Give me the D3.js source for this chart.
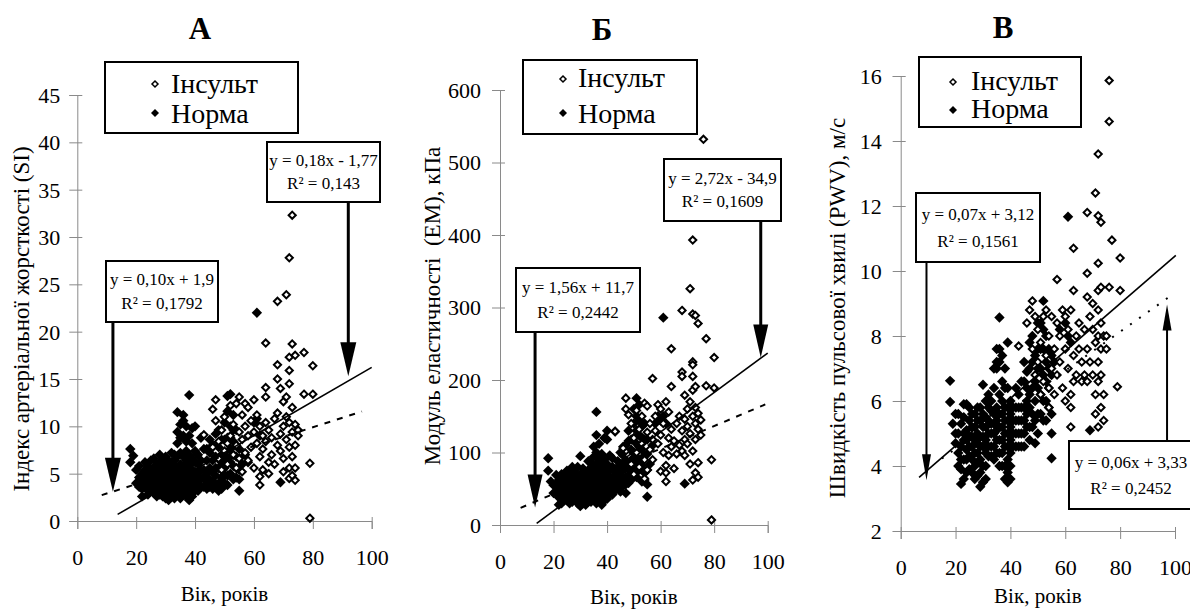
<!DOCTYPE html>
<html><head><meta charset="utf-8">
<script src="https://cdn.jsdelivr.net/npm/d3@7"></script>
<style>
body{margin:0;background:#fff}
svg{display:block}
text{font-family:"Liberation Serif","Times New Roman",serif;white-space:pre}
</style>
</head><body>
<svg id="c" width="1190" height="609"></svg>
<script>
// ---------- DATA ----------
const ageTicks=[0,20,40,60,80,100];
const siTicks=[0,5,10,15,20,25,30,35,40,45];
const emTicks=[0,100,200,300,400,500,600];
const pwvTicks=[2,4,6,8,10,12,14,16];
const seriesNames=["Інсульт","Норма"];
const panelTitles=["А","Б","В"];
const yTitles=["Індекс артеріальної жорсткості (SI)","Модуль еластичності  (ЕМ), кПа","Швидкість пульсової хвилі (PWV), м/с"];
const xTitle="Вік, років";

// Panel A: SI
const siNorm=[[18,7.6],[19,6.9],[18,6.2],[20,4.0],[21,3.6],[21,4.6],[22,2.6],[22,4.2],[22,5.0],[23,3.8],[23,4.4],[23,5.4],[24,3.2],[24,4.0],[24,4.8],[24,5.8],[25,3.6],[25,4.4],[25,5.2],[26,3.0],[26,4.0],[26,4.8],[26,5.6],[27,3.4],[27,4.2],[27,5.0],[27,6.0],[28,2.8],[28,3.8],[28,4.6],[28,5.4],[28,7.0],[29,3.2],[29,4.2],[29,5.0],[29,6.4],[30,2.4],[30,3.6],[30,4.4],[30,5.2],[30,6.0],[31,2.2],[31,3.0],[31,4.0],[31,4.8],[31,5.6],[32,3.4],[32,4.4],[32,5.2],[32,6.2],[33,3.0],[33,4.0],[33,4.8],[33,5.8],[33,7.0],[34,3.6],[34,4.6],[34,5.4],[34,9.4],[34,11.5],[35,3.2],[35,4.2],[35,5.0],[35,6.0],[35,7.2],[35,8.8],[36,2.8],[36,3.8],[36,4.8],[36,5.8],[36,11.2],[36,10.6],[37,3.4],[37,4.4],[37,5.4],[37,6.4],[37,7.4],[38,2.2],[38,3.0],[38,4.0],[38,5.0],[38,6.0],[38,13.3],[39,2.6],[39,3.6],[39,4.6],[39,6.6],[39,9.8],[40,3.2],[40,4.2],[40,5.2],[40,10.0],[41,3.8],[41,4.8],[41,6.0],[42,4.4],[42,5.4],[43,3.6],[43,4.6],[43,7.6],[44,4.0],[44,5.0],[44,6.4],[45,3.6],[45,4.4],[45,5.6],[45,7.2],[46,4.2],[46,5.2],[46,8.0],[47,3.6],[47,4.8],[47,6.8],[47,9.2],[48,4.0],[48,5.6],[48,7.8],[49,3.4],[49,4.6],[49,6.2],[49,8.6],[50,4.0],[50,5.6],[50,7.2],[50,10.4],[51,3.8],[51,6.6],[51,8.8],[51,13.2],[52,5.0],[52,7.6],[52,10.0],[52,13.4],[53,5.8],[53,8.4],[53,11.2],[54,4.6],[54,6.8],[54,9.6],[55,3.2],[55,5.4],[55,7.6],[56,6.0],[57,7.0],[58,6.2],[60,10.4],[61,22.0],[61,10.8],[62,9.0],[69,4.1],
[20,5.4],[21,5.8],[22,3.4],[23,6.2],[24,2.8],[25,6.4],[26,6.6],[27,2.6],[28,6.2],[29,2.6],[29,5.8],[30,6.8],[31,6.4],[32,2.8],[32,7.2],[33,2.4],[33,6.4],[34,2.8],[34,6.8],[34,8.2],[35,2.4],[35,10.2],[36,6.8],[36,9.0],[37,2.6],[37,8.4],[37,10.0],[38,7.0],[38,9.0],[39,5.4],[39,8.2],[40,6.2],[40,7.4],[41,3.2],[41,7.0],[42,3.6],[42,6.4],[42,8.8],[43,5.4],[44,3.4],[44,7.6],[45,8.6],[46,3.4],[46,6.4],[47,5.6],[48,3.2],[48,6.6],[48,9.6],[49,5.4],[49,7.0],[50,4.8],[50,6.4],[50,8.6],[51,4.8],[51,11.6],[52,6.2],[52,8.8],[53,4.4],[53,7.0],[53,9.6],[54,5.6],[54,8.0],[55,4.4],[55,6.6]];
const siStroke=[[43,9.1],[46,7.8],[46,11.8],[47,12.8],[47,10.6],[48,6.6],[48,8.4],[49,9.6],[49,5.4],[50,7.4],[50,11.0],[51,8.2],[51,6.0],[52,12.2],[52,9.0],[53,7.0],[53,10.2],[54,8.0],[54,12.4],[54,5.6],[55,13.1],[55,9.4],[55,6.6],[56,11.2],[56,8.6],[56,5.2],[57,12.4],[57,10.0],[57,7.2],[58,9.0],[58,6.4],[58,12.0],[59,10.6],[59,7.8],[60,12.8],[60,5.6],[60,9.4],[61,8.2],[61,11.2],[62,4.7],[62,3.8],[62,6.8],[62,10.0],[63,7.6],[63,5.4],[63,9.0],[64,13.1],[64,14.1],[64,18.8],[64,8.4],[64,10.4],[65,6.2],[65,9.6],[65,5.0],[66,7.0],[66,8.8],[67,10.8],[67,6.0],[68,16.5],[68,15.0],[68,23.2],[68,11.4],[68,8.0],[69,14.0],[69,9.2],[69,7.4],[70,12.6],[70,10.0],[70,6.6],[70,5.2],[71,13.1],[71,11.0],[71,8.6],[71,23.9],[72,4.5],[72,27.8],[72,15.9],[72,14.5],[72,17.3],[72,10.4],[72,7.8],[72,5.6],[73,18.7],[73,32.3],[73,12.0],[73,9.4],[73,6.8],[73,4.8],[74,17.5],[74,10.2],[74,8.0],[74,4.3],[74,5.6],[75,9.6],[75,9.0],[77,17.8],[77,13.4],[79,6.1],[79,0.3],[80,16.4],[80,13.4]];

// Panel B: EM
const emNorm=[[18,92],[18,75],[21,69],[20,55],[21,45],[22,38],[22,52],[22,62],[23,30],[23,46],[23,58],[24,40],[24,50],[24,66],[25,34],[25,44],[25,56],[25,75],[26,38],[26,48],[26,60],[27,32],[27,44],[27,54],[27,68],[28,36],[28,50],[28,62],[28,72],[29,40],[29,52],[29,58],[30,26],[30,34],[30,46],[30,60],[30,95],[31,30],[31,42],[31,54],[31,66],[32,36],[32,48],[32,58],[32,70],[33,32],[33,44],[33,56],[33,76],[34,38],[34,50],[34,62],[34,86],[35,42],[35,54],[35,66],[35,80],[35,108],[36,30],[36,46],[36,58],[36,72],[36,124],[36,156],[37,36],[37,50],[37,64],[37,90],[37,112],[38,28],[38,40],[38,56],[38,70],[38,84],[39,34],[39,48],[39,62],[39,78],[39,120],[40,44],[40,58],[40,72],[40,130],[41,50],[41,66],[41,96],[42,42],[42,56],[42,80],[43,48],[43,64],[43,129],[44,52],[44,70],[44,88],[45,46],[45,62],[45,84],[45,100],[46,54],[46,76],[46,96],[47,44],[47,66],[47,88],[47,110],[48,58],[48,80],[48,130],[49,62],[49,92],[49,118],[50,70],[50,100],[50,140],[50,160],[51,78],[51,112],[51,150],[51,175],[52,90],[52,124],[52,166],[53,60],[53,104],[53,136],[54,72],[54,118],[55,39],[55,56],[55,98],[56,84],[57,110],[58,140],[59,150],[60,144],[61,286],[61,150],[62,140],[69,57],
[19,60],[20,44],[21,56],[22,28],[23,70],[24,34],[24,58],[25,64],[26,30],[26,70],[27,40],[27,80],[28,44],[28,56],[29,30],[29,66],[29,80],[30,52],[30,70],[31,36],[31,48],[31,78],[32,28],[32,42],[32,64],[33,38],[33,50],[33,66],[33,88],[34,32],[34,44],[34,56],[34,74],[35,36],[35,48],[35,60],[35,94],[36,40],[36,52],[36,66],[36,84],[36,100],[37,44],[37,58],[37,76],[38,34],[38,48],[38,62],[38,98],[39,40],[39,56],[39,70],[39,90],[40,36],[40,50],[40,66],[40,84],[40,118],[41,44],[41,58],[41,76],[42,48],[42,66],[42,92],[43,56],[43,74],[44,60],[44,78],[45,54],[45,72],[46,64],[46,86],[46,108],[47,56],[47,78],[48,68],[48,94],[48,116],[49,74],[49,104],[50,84],[50,120],[51,66],[51,92],[51,130],[52,76],[52,108],[52,144],[53,82],[53,120],[54,62],[54,96],[54,140],[55,76],[55,118]];
const emStroke=[[43,129],[46,106],[47,175],[47,160],[48,152],[48,96],[49,140],[49,84],[50,120],[50,70],[51,158],[51,100],[52,132],[52,80],[53,150],[53,112],[54,168],[54,90],[54,64],[55,164],[55,128],[55,76],[56,140],[56,104],[57,202],[57,118],[57,90],[58,150],[58,130],[59,112],[59,166],[60,160],[60,124],[60,74],[61,140],[61,100],[62,72],[62,60],[62,82],[62,170],[63,156],[63,120],[63,96],[64,243],[64,191],[64,132],[64,108],[65,116],[65,78],[66,98],[66,140],[67,110],[67,150],[68,296],[68,211],[68,205],[68,130],[68,102],[69,179],[69,146],[69,118],[69,96],[70,160],[70,136],[70,112],[71,326],[71,170],[71,126],[71,84],[72,393],[72,291],[72,225],[72,221],[72,205],[72,186],[72,150],[72,102],[72,62],[73,289],[73,191],[73,162],[73,140],[73,118],[73,72],[74,278],[74,154],[74,132],[74,86],[74,66],[75,145],[75,124],[76,532],[77,257],[77,192],[80,231],[80,189],[79,90],[79,7]];

// Panel C: PWV
const pwvNorm=[[18,6.62],[18,5.97],[20,5.6],[20,4.7],[21,5.0],[21,4.4],[22,3.45],[22,3.9],[22,4.6],[22,5.3],[23,4.2],[23,4.8],[23,5.5],[24,3.8],[24,4.5],[24,5.1],[24,5.9],[25,4.3],[25,4.9],[25,5.4],[26,3.8],[26,4.6],[26,5.2],[27,4.0],[27,4.8],[27,5.6],[28,3.7],[28,4.4],[28,5.0],[28,5.8],[29,3.36],[29,4.2],[29,4.9],[29,5.4],[30,3.5],[30,4.6],[30,5.2],[30,6.5],[31,4.0],[31,4.8],[31,5.5],[32,4.3],[32,5.0],[32,5.8],[33,4.6],[33,5.3],[33,6.0],[34,4.2],[34,5.0],[34,5.6],[34,6.4],[35,4.8],[35,5.4],[35,7.0],[35,7.2],[36,4.4],[36,5.2],[36,6.2],[36,7.6],[36,8.57],[37,4.0],[37,4.8],[37,5.6],[37,6.6],[37,7.4],[38,3.6],[38,4.6],[38,5.4],[38,6.4],[39,3.8],[39,4.2],[39,5.0],[39,5.8],[39,7.8],[40,3.6],[40,4.4],[40,5.2],[40,6.0],[41,4.6],[41,5.4],[42,5.0],[42,5.8],[43,4.6],[43,5.4],[43,6.2],[44,5.0],[44,5.8],[45,4.6],[45,5.4],[45,6.6],[46,5.2],[46,6.0],[46,6.9],[47,4.8],[47,5.8],[47,7.8],[48,5.2],[48,6.4],[48,8.0],[49,4.7],[49,6.0],[49,7.4],[50,5.0],[50,6.4],[50,7.6],[51,5.6],[51,7.0],[51,8.4],[52,6.0],[52,7.6],[52,9.08],[53,5.4],[53,6.6],[53,8.0],[54,5.8],[54,7.0],[55,4.24],[55,5.0],[55,6.8],[56,7.2],[58,8.2],[60,8.4],[61,11.67],[61,8.0],[62,7.8],[69,5.1],
[19,5.3],[20,5.0],[21,4.0],[21,5.6],[22,4.2],[23,3.6],[23,5.0],[23,5.9],[24,4.2],[24,4.8],[25,3.9],[25,4.6],[25,5.8],[26,4.2],[26,4.9],[26,5.6],[27,3.6],[27,4.4],[27,5.2],[28,4.1],[28,4.7],[28,5.4],[29,3.8],[29,4.6],[29,5.8],[30,4.0],[30,4.9],[30,5.6],[31,3.6],[31,4.4],[31,5.2],[31,6.0],[32,4.6],[32,5.4],[32,6.2],[33,4.3],[33,5.0],[33,5.7],[34,4.6],[34,5.3],[34,7.0],[35,4.4],[35,5.1],[35,5.8],[35,7.6],[36,4.0],[36,4.8],[36,5.6],[36,7.2],[37,4.4],[37,5.2],[37,6.0],[38,4.0],[38,5.0],[38,5.8],[38,7.0],[39,3.5],[39,4.6],[39,5.4],[39,6.4],[40,4.0],[40,4.8],[40,5.6],[41,5.0],[41,5.8],[42,4.6],[42,5.4],[42,6.4],[43,5.0],[43,5.8],[44,4.6],[44,5.4],[44,6.6],[45,5.0],[45,5.8],[45,7.2],[46,5.6],[46,6.4],[47,5.2],[47,6.2],[47,7.0],[48,5.6],[48,7.2],[49,5.4],[49,6.6],[50,5.6],[50,7.0],[50,8.4],[51,6.2],[51,7.6],[52,5.4],[52,6.8],[52,8.2],[53,6.0],[53,7.2],[54,6.4],[54,7.6],[55,5.6],[55,7.4]];
const pwvStroke=[[43,7.69],[46,8.4],[47,8.8],[48,9.08],[48,7.6],[49,8.6],[49,6.8],[50,7.2],[50,8.2],[51,6.2],[51,7.8],[52,8.6],[52,6.6],[53,7.4],[53,8.8],[54,5.8],[54,6.4],[54,8.0],[55,7.0],[55,8.6],[56,6.2],[56,7.6],[57,9.74],[57,8.4],[57,6.8],[58,7.2],[58,8.0],[59,8.8],[59,6.4],[60,7.6],[60,8.6],[60,6.0],[61,8.2],[61,7.0],[62,5.2],[62,5.8],[62,6.2],[62,8.8],[63,9.4],[63,10.7],[63,7.4],[63,6.6],[64,8.0],[64,6.8],[65,7.6],[65,8.4],[66,6.6],[66,7.2],[67,8.2],[67,6.8],[68,9.93],[68,9.2],[68,11.8],[68,7.6],[68,6.6],[69,8.6],[69,7.2],[70,8.2],[70,6.8],[70,9.0],[71,12.4],[71,7.8],[71,6.2],[71,5.6],[72,13.6],[72,11.7],[72,10.24],[72,9.4],[72,8.8],[72,8.0],[72,7.2],[72,6.6],[72,5.2],[73,11.5],[73,9.5],[73,8.4],[73,7.6],[73,6.8],[73,5.8],[74,8.0],[74,6.2],[74,5.4],[75,8.0],[75,7.6],[76,15.86],[76,14.6],[77,10.95],[76,9.5],[79,6.44],[80,10.4],[80,9.4]];

// trend lines [slope, intercept]
const siTrendStroke=[0.18,-1.77], siTrendNorm=[0.10,1.9];
const emTrendStroke=[2.72,-34.9], emTrendNorm=[1.56,11.7];
const pwvTrendSolid=[0.073,3.16], pwvTrendDotted=[0.06,3.33];
// equation labels
const siEqNorm=["y = 0,10x + 1,9","R² = 0,1792"], siEqStroke=["y = 0,18x - 1,77","R² = 0,143"];
const emEqNorm=["y = 1,56x + 11,7","R² = 0,2442"], emEqStroke=["y = 2,72x - 34,9","R² = 0,1609"];
const pwvEqSolid=["y = 0,07x + 3,12","R² = 0,1561"], pwvEqDotted=["y = 0,06x + 3,33","R² = 0,2452"];

// ---------- LAYOUT ----------
const FONT='"Liberation Serif","Times New Roman",serif';
const panels=[
 {title:panelTitles[0],titleX:200,titleY:39,xr:[77.3,371.7],yr:[521,95],yd:[0,45],yTicks:siTicks,
  norm:siNorm,stroke:siStroke,yTitle:yTitles[0],yTitleX:21,yTitleY:319,yLab:-17,xTitleY:601,
  legend:{x:105,y:62,w:193,h:71,mx:155,tx:171,m1:84,t1:93,m2:113,t2:123},
  trends:[{c:siTrendNorm,from:8.3,to:96.7,dash:"6,7"},{c:siTrendStroke,from:13.7,to:100,dash:null}],
  boxes:[{x:106,y:261,w:112,h:61,lines:siEqNorm,ax:12.1,tip:3.1,dir:"down"},
         {x:267,y:142,w:113,h:60,lines:siEqStroke,ax:92.05,tip:15.3,dir:"down"}],
  arrow:{w:3,hw:8,hl:34}},
 {title:panelTitles[1],titleX:602,titleY:40,xr:[500,767.7],yr:[525,90],yd:[0,600],yTicks:emTicks,
  norm:emNorm,stroke:emStroke,yTitle:yTitles[1],yTitleX:432,yTitleY:306,yLab:-19,xTitleY:604,
  legend:{x:523,y:60,w:174,h:74,mx:563,tx:578,m1:79,t1:87,m2:113,t2:123},
  trends:[{c:emTrendNorm,from:7.7,to:99.1,dash:"6,7"},{c:emTrendStroke,from:13.7,to:100,dash:null}],
  boxes:[{x:516,y:268,w:124,h:64,lines:emEqNorm,ax:13.1,tip:24,dir:"down"},
         {x:664,y:159,w:117,h:62,lines:emEqStroke,ax:97.4,tip:231,dir:"down"}],
  arrow:{w:3,hw:7.5,hl:33}},
 {title:panelTitles[2],titleX:1003,titleY:38,xr:[900.7,1175],yr:[531,76],yd:[2,16],yTicks:pwvTicks,
  norm:pwvNorm,stroke:pwvStroke,yTitle:yTitles[2],yTitleX:837,yTitleY:308,yLab:-19,xTitleY:603,
  legend:{x:919,y:57,w:162,h:70,mx:953,tx:971,m1:82,t1:90,m2:110,t2:118},
  trends:[{c:pwvTrendDotted,from:15,to:98,dash:"2,9"},{c:pwvTrendSolid,from:6.7,to:100.3,dash:null}],
  boxes:[{x:916,y:193,w:124,h:69,lines:pwvEqSolid,ax:9.4,tip:3.56,dir:"down"},
         {x:1069,y:441,w:124,h:68,lines:pwvEqDotted,ax:97.1,tip:8.97,dir:"up"}],
  arrow:{w:2,hw:4.5,hl:26}}
];

const svg=d3.select("#c");
const diamond=r=>`M0,${-r}L${r},0L0,${r}L${-r},0Z`;
const axisColor="#8a8a8a";

panels.forEach(p=>{
  const g=svg.append("g");
  const x=d3.scaleLinear().domain([0,100]).range(p.xr);
  const y=d3.scaleLinear().domain(p.yd).range(p.yr);

  g.append("text").attr("x",p.titleX).attr("y",p.titleY).attr("text-anchor","middle")
    .attr("font-size",31).attr("font-weight","bold").text(p.title);

  const xa=g.append("g").attr("transform",`translate(0,${p.yr[0]})`)
    .call(d3.axisBottom(x).tickValues(ageTicks).tickSizeOuter(0).tickSize(8));
  xa.attr("font-family",FONT);
  xa.select(".domain").attr("stroke",axisColor);
  xa.selectAll(".tick line").attr("stroke",axisColor).attr("y1",-4).attr("y2",8);
  xa.selectAll(".tick text").attr("y",44).attr("dy",0).attr("font-size",22).attr("fill","#000");

  const ya=g.append("g").attr("transform",`translate(${p.xr[0]},0)`)
    .call(d3.axisLeft(y).tickValues(p.yTicks).tickSizeOuter(0).tickSize(8));
  ya.attr("font-family",FONT);
  ya.select(".domain").attr("stroke",axisColor);
  ya.selectAll(".tick line").attr("stroke",axisColor).attr("x1",5).attr("x2",-8);
  ya.selectAll(".tick text").attr("x",p.yLab).attr("dy","0.34em").attr("font-size",22).attr("fill","#000");

  g.append("text").attr("x",(p.xr[0]+p.xr[1])/2).attr("y",p.xTitleY).attr("text-anchor","middle")
    .attr("font-size",21).text(xTitle);
  g.append("text").attr("transform",`translate(${p.yTitleX},${p.yTitleY}) rotate(-90)`)
    .attr("text-anchor","middle").attr("dy","0.35em").attr("font-size",23).text(p.yTitle);

  g.append("g").selectAll("path").data(p.norm).join("path")
    .attr("transform",d=>`translate(${x(d[0])},${y(d[1])})`).attr("d",diamond(5.2)).attr("fill","#000");
  g.append("g").selectAll("path").data(p.stroke).join("path")
    .attr("transform",d=>`translate(${x(d[0])},${y(d[1])})`).attr("d",diamond(3.6))
    .attr("fill","#fff").attr("stroke","#000").attr("stroke-width",2);

  p.trends.forEach(t=>{
    const line=d3.line().x(d=>x(d)).y(d=>y(t.c[0]*d+t.c[1]));
    g.append("path").datum([t.from,t.to]).attr("d",line).attr("fill","none")
      .attr("stroke","#000").attr("stroke-width",t.dash?2:1.6)
      .attr("stroke-dasharray",t.dash);
  });

  const L=p.legend;
  g.append("rect").attr("x",L.x).attr("y",L.y).attr("width",L.w).attr("height",L.h)
    .attr("fill","#fff").attr("stroke","#000").attr("stroke-width",2);
  g.append("path").attr("transform",`translate(${L.mx},${L.m1})`).attr("d",diamond(3))
    .attr("fill","#fff").attr("stroke","#000").attr("stroke-width",1.5);
  g.append("text").attr("x",L.tx).attr("y",L.t1).attr("font-size",28).text(seriesNames[0]);
  g.append("path").attr("transform",`translate(${L.mx},${L.m2})`).attr("d",diamond(4)).attr("fill","#000");
  g.append("text").attr("x",L.tx).attr("y",L.t2).attr("font-size",28).text(seriesNames[1]);

  p.boxes.forEach(b=>{
    g.append("rect").attr("x",b.x).attr("y",b.y).attr("width",b.w).attr("height",b.h)
      .attr("fill","#fff").attr("stroke","#000").attr("stroke-width",2);
    const cx=b.x+b.w/2;
    g.append("text").attr("x",cx).attr("y",b.y+b.h*0.38+1).attr("text-anchor","middle").attr("font-size",17).text(b.lines[0]);
    g.append("text").attr("x",cx).attr("y",b.y+b.h*0.78).attr("text-anchor","middle").attr("font-size",17).text(b.lines[1]);
    const ax=x(b.ax), ty=y(b.tip), A=p.arrow;
    if(b.dir==="down"){
      g.append("line").attr("x1",ax).attr("x2",ax).attr("y1",b.y+b.h).attr("y2",ty-A.hl+2)
        .attr("stroke","#000").attr("stroke-width",A.w);
      g.append("path").attr("d",`M${ax-A.hw},${ty-A.hl}L${ax+A.hw},${ty-A.hl}L${ax},${ty}Z`).attr("fill","#000");
    } else {
      g.append("line").attr("x1",ax).attr("x2",ax).attr("y1",b.y).attr("y2",ty+A.hl-2)
        .attr("stroke","#000").attr("stroke-width",A.w);
      g.append("path").attr("d",`M${ax-A.hw},${ty+A.hl}L${ax+A.hw},${ty+A.hl}L${ax},${ty}Z`).attr("fill","#000");
    }
  });
});
svg.selectAll("text").style("font-family",FONT);
</script>
</body></html>
